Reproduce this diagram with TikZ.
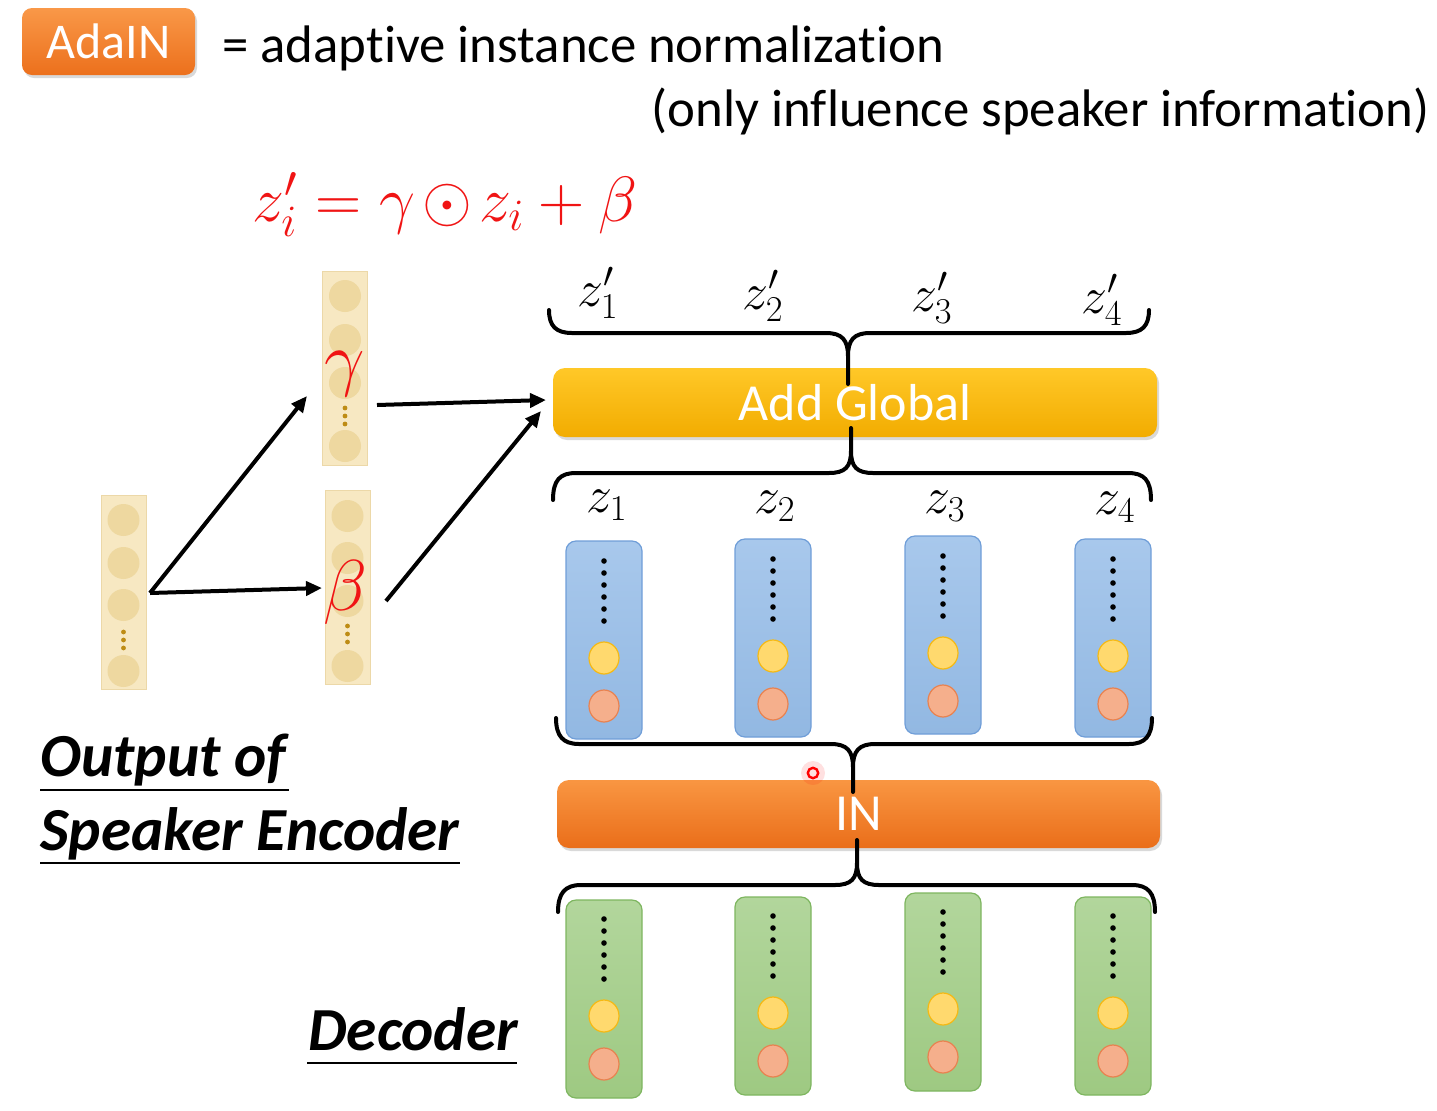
\RequirePackage{fix-cm}
\documentclass[tikz,border=0pt]{standalone}
\usepackage{fontspec}
\setmainfont[Ligatures=NoCommon]{Carlito}
\usetikzlibrary{arrows.meta,shadows}
\definecolor{adaTop}{RGB}{249,152,72}
\definecolor{adaBot}{RGB}{236,112,28}
\definecolor{agTop}{RGB}{255,200,40}
\definecolor{agBot}{RGB}{242,172,0}
\definecolor{inTop}{RGB}{249,150,66}
\definecolor{inBot}{RGB}{234,110,26}
\definecolor{blueTop}{RGB}{168,200,236}
\definecolor{blueBot}{RGB}{146,184,226}
\definecolor{blueEdge}{RGB}{112,158,216}
\definecolor{greenTop}{RGB}{178,214,156}
\definecolor{greenBot}{RGB}{158,201,130}
\definecolor{greenEdge}{RGB}{126,182,96}
\definecolor{ylwFill}{RGB}{255,217,110}
\definecolor{ylwEdge}{RGB}{245,185,20}
\definecolor{orgFill}{RGB}{245,175,140}
\definecolor{orgEdge}{RGB}{232,130,80}
\definecolor{beige}{RGB}{247,232,194}
\definecolor{beigeEdge}{RGB}{236,216,168}
\definecolor{beigeCirc}{RGB}{238,216,160}
\definecolor{beigeDot}{RGB}{190,140,20}
\definecolor{myred}{RGB}{240,20,20}
\begin{document}
\begin{tikzpicture}[x=0.5pt,y=-0.5pt,
  txt/.style={inner sep=0pt, font=\fontsize{26.4}{28}\selectfont},
  bar/.style={rounded corners=6pt, minimum width=302pt, minimum height=34.5pt, inner sep=0pt, text=white,
    font=\fontsize{26}{28}\selectfont, drop shadow={opacity=0.3,shadow xshift=1pt,shadow yshift=-1.5pt}},
  bcol/.style={draw=blueEdge, top color=blueTop, bottom color=blueBot, rounded corners=5pt,
    minimum width=38pt, minimum height=99pt, line width=0.6pt, inner sep=0pt},
  gcol/.style={draw=greenEdge, top color=greenTop, bottom color=greenBot, rounded corners=5pt,
    minimum width=38pt, minimum height=99pt, line width=0.6pt, inner sep=0pt},
  vcol/.style={fill=beige, draw=beigeEdge, line width=0.4pt, minimum width=22.5pt, minimum height=97pt, inner sep=0pt},
  brace/.style={line width=2pt, line cap=round},
  arr/.style={line width=2pt, -{Triangle[length=8pt,width=7pt]}},
  lbl/.style={font=\fontsize{30.6}{32}\selectfont\bfseries\itshape, inner sep=0pt},
  zl/.style={font=\fontsize{26}{28}\selectfont, inner sep=0pt},
  gb/.style={text=myred, inner sep=0pt, font=\fontsize{36}{38}\selectfont},
  ylw/.style={fill=ylwFill, draw=ylwEdge, line width=0.6pt},
  org/.style={fill=orgFill, draw=orgEdge, line width=0.6pt}
]
\useasboundingbox (0,0) rectangle (1437,1110);

% header
\node[bar, top color=adaTop, bottom color=adaBot, minimum width=86.5pt, minimum height=33.5pt,
  rounded corners=5pt, font=\fontsize{25}{27}\selectfont] (ada) at (108.5,41.5) {AdaIN};
\node[txt, anchor=base west] (def) at (222,62) {= adaptive instance normalization};
\node[txt, anchor=base east] (note) at (1430,126) {(only influence speaker information)};
\node[text=myred, inner sep=0pt, font=\fontsize{32}{34}\selectfont] (eq) at (445,205)
  {$z_i' = \gamma\mkern2mu{\odot}\mkern2mu z_i + \beta$};

% speaker encoder output vectors
\node[vcol] (enc) at (123.5,592.5) {};
\foreach \y in {520,563,605,671} \fill[beigeCirc] (123.5,\y) circle (8pt);
\foreach \y in {632,640,648} \fill[beigeDot] (123.5,\y) circle (1.2pt);

\node[vcol] (gam) at (345,368.5) {};
\foreach \y in {296,340,383,446} \fill[beigeCirc] (345,\y) circle (8pt);
\foreach \y in {408,416,424} \fill[beigeDot] (345,\y) circle (1.2pt);
\node[gb] (gl) at (345,374) {$\gamma$};

\node[vcol] (bet) at (347.5,587) {};
\foreach \y in {516,558,601,666} \fill[beigeCirc] (347.5,\y) circle (8pt);
\foreach \y in {626,634,642} \fill[beigeDot] (347.5,\y) circle (1.2pt);
\node[gb] (bl) at (345,592) {$\beta$};

% arrows
\coordinate (encOut) at (150,593);
\coordinate (gamIn) at (307,396);
\coordinate (betIn) at (322,588);
\coordinate (gamOut) at (377,405);
\coordinate (betOut) at (386,601);
\coordinate (agIn1) at (546,400);
\coordinate (agIn2) at (541,411);
\draw[arr] (encOut) -- (gamIn);
\draw[arr] (encOut) -- (betIn);
\draw[arr] (gamOut) -- (agIn1);
\draw[arr] (betOut) -- (agIn2);

% bars
\node[bar, top color=agTop, bottom color=agBot] (ag) at (855,402.5) {Add Global};
\node[bar, top color=inTop, bottom color=inBot, minimum width=301.5pt, minimum height=34pt] (in) at (858.5,814) {IN};

% blue columns
\foreach \i/\x/\t in {1/604/541,2/773/539,3/943/536,4/1113/539}{
  \node[bcol] (b\i) at (\x,{\t+99}) {};
  \foreach \k in {0,...,5} \fill (\x,{\t+20+\k*12}) circle (1.4pt);
  \draw[ylw] (\x,{\t+117}) ellipse [x radius=7.5pt, y radius=8pt];
  \draw[org] (\x,{\t+165}) ellipse [x radius=7.5pt, y radius=8pt];
}
% green columns
\foreach \i/\x/\t in {1/604/900,2/773/897,3/943/893,4/1113/897}{
  \node[gcol] (g\i) at (\x,{\t+99}) {};
  \foreach \k in {0,...,5} \fill (\x,{\t+19+\k*12}) circle (1.4pt);
  \draw[ylw] (\x,{\t+116}) ellipse [x radius=7.5pt, y radius=8pt];
  \draw[org] (\x,{\t+164}) ellipse [x radius=7.5pt, y radius=8pt];
}

% labels
\node[zl] (zp1) at (598,293) {$z_1'$};
\node[zl] (zp2) at (763,296) {$z_2'$};
\node[zl] (zp3) at (932,298) {$z_3'$};
\node[zl] (zp4) at (1102,300) {$z_4'$};
\node[zl] (z1) at (607,505) {$z_1$};
\node[zl] (z2) at (775,506) {$z_2$};
\node[zl] (z3) at (945,506) {$z_3$};
\node[zl] (z4) at (1115,507) {$z_4$};

% braces
\draw[brace] (549,310) .. controls (549,326) and (556,333) .. (572,333) -- (826,333)
  .. controls (842,333) and (848,340) .. (848,356) -- (848,384)
  (848,356) .. controls (848,340) and (854,333) .. (870,333) -- (1126,333)
  .. controls (1142,333) and (1149,326) .. (1149,310);
\draw[brace] (553,500) .. controls (553,480) and (560,473) .. (576,473) -- (829,473)
  .. controls (845,473) and (851,467) .. (851,451) -- (851,428)
  (851,451) .. controls (851,467) and (857,473) .. (873,473) -- (1128,473)
  .. controls (1144,473) and (1151,480) .. (1151,500);
\draw[brace] (556,718) .. controls (556,736) and (563,744) .. (579,744) -- (831,744)
  .. controls (847,744) and (853,751) .. (853,767) -- (853,792)
  (853,767) .. controls (853,751) and (859,744) .. (875,744) -- (1129,744)
  .. controls (1145,744) and (1152,736) .. (1152,718);
\draw[brace] (558,912) .. controls (558,893) and (565,885) .. (581,885) -- (835,885)
  .. controls (851,885) and (857,879) .. (857,863) -- (857,840)
  (857,863) .. controls (857,879) and (863,885) .. (879,885) -- (1132,885)
  .. controls (1148,885) and (1155,893) .. (1155,912);

% captions
\node[lbl, anchor=base west] (out1) at (40,776) {Output of};
\node[lbl, anchor=base west] (out2) at (40,850) {Speaker Encoder};
\node[lbl, anchor=base west] (dec) at (308,1050) {Decoder};
\draw[line width=1.2pt] (40,790) -- (289,790);
\draw[line width=1.2pt] (40,863) -- (460,863);
\draw[line width=1.2pt] (307,1063) -- (517,1063);

% pointer dot
\fill[red, opacity=0.12] (813,773) circle (6pt);
\draw[red, line width=1.2pt] (813,773) circle (2.6pt);
\end{tikzpicture}
\end{document}
